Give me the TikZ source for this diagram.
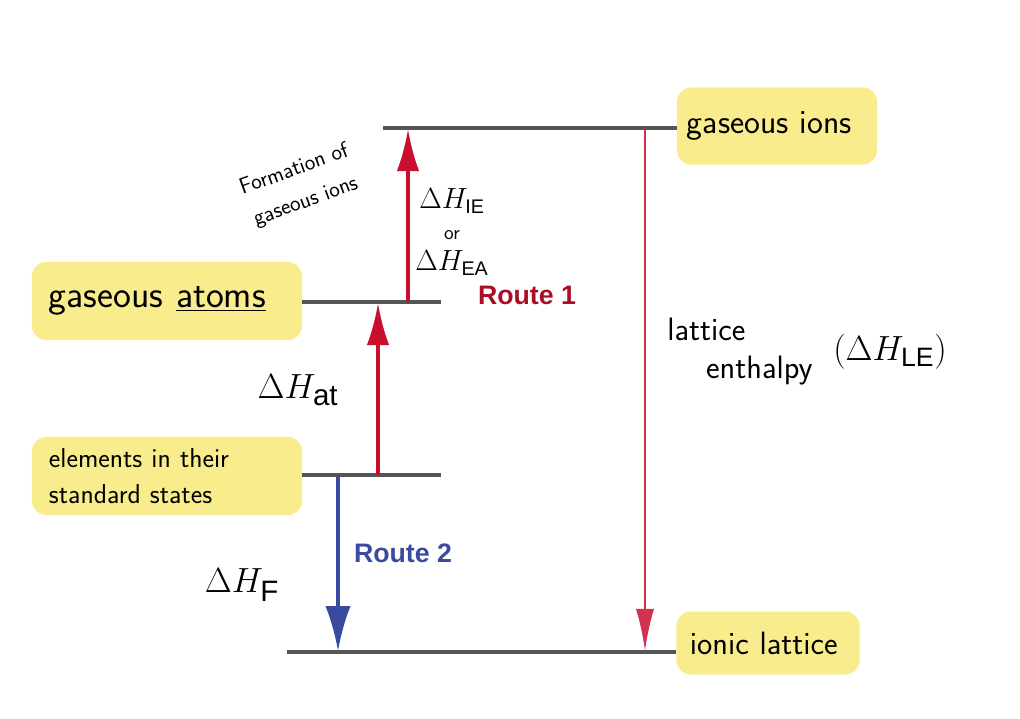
\documentclass[tikz,border=0pt]{standalone}
\usepackage{fontspec}
\setmainfont{Liberation Sans}
\usepackage{xcolor}
\usetikzlibrary{arrows.meta, positioning}

\definecolor{notebox}{HTML}{F8EC8C}
\definecolor{levelgray}{HTML}{555555}
\definecolor{routered}{HTML}{C8102E}
\definecolor{routeblue}{HTML}{3A4A9E}

\tikzset{
  notebox/.style={fill=notebox, rounded corners=10pt, inner xsep=12pt, align=left,
    font=\sffamily\fontsize{24}{28}\selectfont},
  level/.style={draw=levelgray, line width=2.3pt},
  redarrow/.style={draw=routered, line width=2.3pt, -{Latex[length=30pt,width=16pt]}},
  bluearrow/.style={draw=routeblue, line width=2.3pt, -{Latex[length=32pt,width=18pt]}},
  lattarrow/.style={draw=routered!85!white, line width=1.8pt, -{Latex[length=30pt,width=13pt]}},
  hand/.style={font=\sffamily\fontsize{23}{27}\selectfont, align=left},
  bighand/.style={font=\sffamily\fontsize{30}{34}\selectfont},
  routelabel/.style={font=\bfseries\fontsize{19}{22}\selectfont}
}

\begin{document}
\begin{tikzpicture}[x=0.025cm, y=-0.025cm]
\useasboundingbox (0,0) rectangle (1020,718);

% boxes
\node[notebox, minimum width=5cm, minimum height=1.925cm, text width=4.5cm, inner xsep=6pt,
  font=\sffamily\fontsize{24}{28}\selectfont] (ions) at (777,126) {gaseous ions};
\node[notebox, minimum width=6.75cm, minimum height=1.95cm, text width=5.9cm,
  font=\sffamily\fontsize{27}{31}\selectfont] (atoms) at (167,301) {gaseous \underline{atoms}};
\node[notebox, minimum width=6.75cm, minimum height=1.95cm, text width=5.9cm,
  font=\sffamily\fontsize{19.5}{26}\selectfont] (elements) at (167,476) {elements in their\\standard states};
\node[notebox, minimum width=4.575cm, minimum height=1.575cm, text width=3.9cm, inner xsep=8pt,
  font=\sffamily\fontsize{23}{27}\selectfont] (lattice) at (768,643) {ionic lattice};

% level ends
\coordinate (ionsL) at (383,128);
\coordinate (atomsR) at (441,302);
\coordinate (elemR) at (441,475);
\coordinate (lattL) at (287,652);

\draw[level] (ionsL) -- (ions.west |- ionsL);
\draw[level] (atoms.east |- atomsR) -- (atomsR);
\draw[level] (elements.east |- elemR) -- (elemR);
\draw[level] (lattL) -- (lattice.west |- lattL);

% arrows
\coordinate (ieFrom) at (408,302);
\coordinate (ieTo) at (408,129);
\coordinate (atFrom) at (378,475);
\coordinate (atTo) at (378,303);
\coordinate (fFrom) at (338,477);
\coordinate (fTo) at (338,651);
\coordinate (leFrom) at (645,129);
\coordinate (leTo) at (645,651);

\draw[redarrow] (ieFrom) -- (ieTo);
\draw[redarrow] (atFrom) -- (atTo);
\draw[bluearrow] (fFrom) -- (fTo);
\draw[lattarrow] (leFrom) -- (leTo);

% labels
\node[routelabel, text=routered!85!black] (route1) at (527,295) {Route 1};
\node[routelabel, text=routeblue] (route2) at (403,553) {Route 2};

\node[hand, rotate=20, font=\sffamily\fontsize{16}{24}\selectfont, align=center] (formation) at (300,186) {Formation of\\gaseous ions};
\node[hand, align=center, font=\sffamily\fontsize{20}{24}\selectfont] (ieea) at (452,232) {$\Delta H_{\mathrm{IE}}$\\[-2pt]{\fontsize{14}{16}\selectfont or}\\[-2pt]$\Delta H_{\mathrm{EA}}$};
\node[bighand] (dhat) at (298,390) {$\Delta H_{\mathrm{at}}$};
\node[bighand] (dhf) at (242,585) {$\Delta H_{\mathrm{F}}$};
\node[hand] (lattword) at (740,352) {lattice\\\hspace{1.2em}enthalpy};
\node[bighand, font=\sffamily\fontsize{27}{31}\selectfont] (dhle) at (890,352) {$(\Delta H_{\mathrm{LE}})$};
\end{tikzpicture}
\end{document}
